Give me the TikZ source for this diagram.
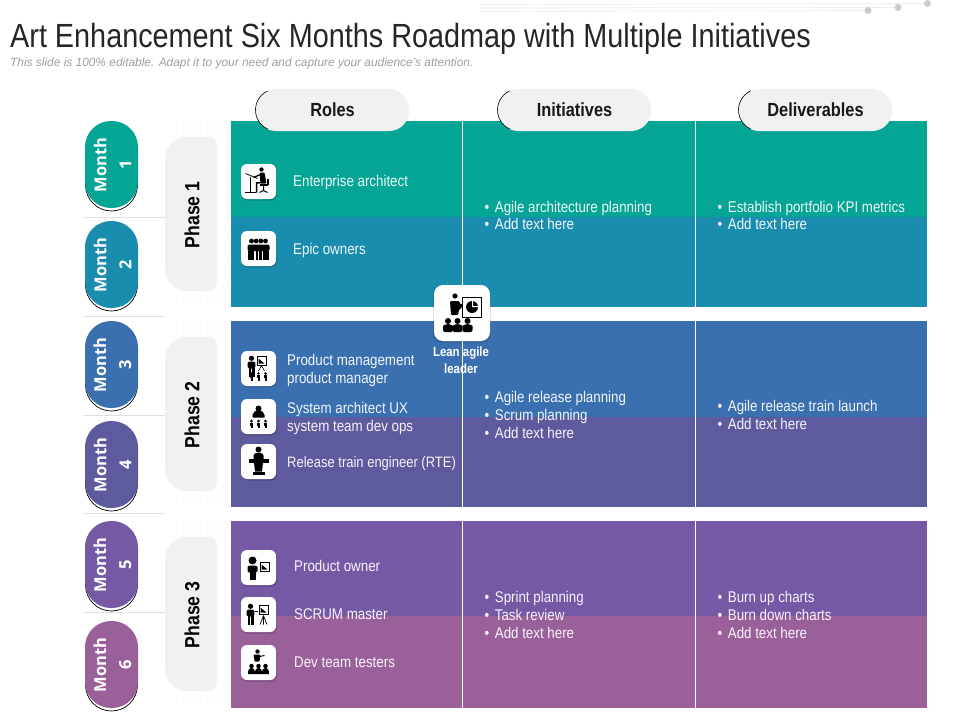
\documentclass[tikz,border=0pt]{standalone}
\usepackage{fontspec}
\setmainfont[FakeStretch=0.86]{Liberation Sans}
\newfontfamily\titlefont[FakeStretch=0.86]{Liberation Sans}
\newfontfamily\monthfont{Open Sans}
\newfontfamily\subfont{Liberation Sans}
\definecolor{ca}{HTML}{05A596}
\definecolor{cb}{HTML}{1A8CAD}
\definecolor{cc}{HTML}{3B70B0}
\definecolor{cd}{HTML}{5D5A9E}
\definecolor{ce}{HTML}{7659A5}
\definecolor{cf}{HTML}{9A6099}
\definecolor{padg}{HTML}{F1F1F1}
\tikzset{
  band/.style={fill=#1,draw=none},
  rowtext/.style={anchor=west,text=white,font=\fontsize{15.5}{18}\selectfont,align=left,inner sep=0pt,opacity=.93},
  celltext/.style={anchor=west,text=white,font=\fontsize{15.5}{17.8}\selectfont,align=left,inner sep=0pt,opacity=.93},
  headbox/.style={fill=padg,rounded corners=20pt,minimum width=153pt,minimum height=42pt,inner sep=0pt,font=\bfseries\fontsize{19}{20}\selectfont,text=black!90},
  monthlabel/.style={text=white,rotate=90,align=center,inner sep=0pt,font=\monthfont\bfseries\fontsize{16.5}{25}\selectfont},
  phaselabel/.style={rotate=90,text=black,inner sep=0pt,font=\bfseries\fontsize{20.5}{22}\selectfont},
  iconbox/.style={fill=white,rounded corners=6pt,minimum width=35pt,minimum height=35pt,inner sep=0pt},
  sepline/.style={draw=black!12,line width=.7pt},
  pics/prs/.style={code={
    \fill (0,-5.2) circle (2.6);
    \fill[rounded corners=1.5pt] (-3.8,-2) rectangle (3.8,5);
    \fill (-3,4) rectangle (-.4,13);
    \fill (.4,4) rectangle (3,13);
  }},
  pics/chartbd/.style={code={
    \draw[line width=.8pt,fill=white] (-4.5,-4.5) rectangle (4.5,4.5);
    \fill (-3,3) -- (-3,-2) -- (3,3) -- cycle;
  }}
}
\newcommand{\monthpill}[4]{% name, top y, colour, number
  \fill[white,draw=black,line width=.7pt,rounded corners=26pt] (85.5,#2+3) rectangle (137.5,#2+90);
  \fill[#3,rounded corners=26pt] (85,#2) rectangle (138,#2+87);
  \node[monthlabel] (#1) at (112.5,#2+44) {Month\\#4};
}
\newcommand{\phasepad}[3]{% name, top y, label
  \foreach \dx in {0,6,...,48} \foreach \dy in {0,6,...,180}
    \fill[black!9] (177+\dx,#2-15+\dy) circle (.6);
  \fill[padg] (165,#2+77) [rounded corners=22pt] |- (191,#2) [rounded corners=8pt] -| (217,#2+77) |- (191,#2+154) [rounded corners=22pt] -| cycle;
  \node[phaselabel] (#1) at (192,#2+78) {#3};
}
\newcommand{\headpill}[3]{% name, left x, label
  \node[headbox] (#1) at (#2+77.5,110) {#3};
  \draw[black,line width=.6pt] (#2+12.6,129) arc[start angle=245,end angle=115,radius=21pt];
}
\newcommand{\iconplate}[3]{% name, x, y centre
  \fill[black,opacity=.18,rounded corners=6pt] (#2-17,#3-16) rectangle (#2+18.5,#3+19);
  \node[iconbox] (#1) at (#2,#3) {};
}
\begin{document}
\begin{tikzpicture}[x=1pt,y=-1pt]
\useasboundingbox (0,0) rectangle (960,720);
% top decoration
\draw[black!8,line width=.7pt] (480,4.5) -- (927,3.5);
\draw[black!8,line width=.7pt] (480,8) -- (898,7.5);
\draw[black!8,line width=.7pt] (480,11.5) -- (868,10.5);
\fill[black!20] (868,10.5) circle (3.5) (898,7.5) circle (3.5) (927.5,3.5) circle (3.5);
% title
\node[anchor=base west,inner sep=0pt,text=black!85,font=\titlefont\fontsize{33.5}{36}\selectfont] (title) at (10,47) {Art Enhancement Six Months Roadmap with Multiple Initiatives};
\node[anchor=base west,inner sep=0pt,text=black!38,font=\subfont\itshape\fontsize{11.9}{13}\selectfont] (sub) at (10,66) {This slide is 100\% editable. Adapt it to your need and capture your audience’s attention.};
% bands
\fill[band=ca] (231,121) rectangle (927,217);
\fill[band=cb] (231,217) rectangle (927,307);
\fill[band=cc] (231,321) rectangle (927,417);
\fill[band=cd] (231,417) rectangle (927,507);
\fill[band=ce] (231,521) rectangle (927,616);
\fill[band=cf] (231,616) rectangle (927,708);
\draw[white,line width=1pt] (462.5,121) -- (462.5,708);
\draw[white,line width=1pt] (695.5,121) -- (695.5,708);
\fill[white] (231,307) rectangle (927,321);
\fill[white] (231,507) rectangle (927,521);
% separators
\foreach \yy in {217,316,415,513,612} \draw[sepline] (83,\yy) -- (165,\yy);
% months
\monthpill{m1}{121}{ca}{1}
\monthpill{m2}{221}{cb}{2}
\monthpill{m3}{321}{cc}{3}
\monthpill{m4}{421}{cd}{4}
\monthpill{m5}{521}{ce}{5}
\monthpill{m6}{621}{cf}{6}
% phases
\phasepad{p1}{137}{Phase 1}
\phasepad{p2}{337}{Phase 2}
\phasepad{p3}{537}{Phase 3}
% headers
\headpill{h1}{255}{Roles}
\headpill{h2}{497}{Initiatives}
\headpill{h3}{738}{Deliverables}
% role texts
\node[rowtext] (r1) at (293,182) {Enterprise architect};
\node[rowtext] (r2) at (293,250) {Epic owners};
\node[rowtext] (r3) at (287,370.5) {Product management\\product manager};
\node[rowtext] (r4) at (287,418.5) {System architect UX\\system team dev ops};
\node[rowtext,font=\fontsize{15.1}{18}\selectfont] (r5) at (287,463.5) {Release train engineer (RTE)};
\node[rowtext] (r6) at (294,566) {Product owner};
\node[rowtext] (r7) at (294,614.5) {SCRUM master};
\node[rowtext] (r8) at (294,662.5) {Dev team testers};
% initiatives
\node[celltext] (i1) at (484.5,215.5) {•\hspace{5.5pt}Agile architecture planning\\•\hspace{5.5pt}Add text here};
\node[celltext] (i2) at (484.5,415) {•\hspace{5.5pt}Agile release planning\\•\hspace{5.5pt}Scrum planning\\•\hspace{5.5pt}Add text here};
\node[celltext] (i3) at (484.5,615) {•\hspace{5.5pt}Sprint planning\\•\hspace{5.5pt}Task review\\•\hspace{5.5pt}Add text here};
% deliverables
\node[celltext] (d1) at (717.5,215.5) {•\hspace{5.5pt}Establish portfolio KPI metrics\\•\hspace{5.5pt}Add text here};
\node[celltext] (d2) at (717.5,415) {•\hspace{5.5pt}Agile release train launch\\•\hspace{5.5pt}Add text here};
\node[celltext] (d3) at (717.5,615) {•\hspace{5.5pt}Burn up charts\\•\hspace{5.5pt}Burn down charts\\•\hspace{5.5pt}Add text here};
% icon 1: architect at desk
\iconplate{ic1}{258.5}{181.5}
\begin{scope}[shift={(258.5,181.5)}]
  \fill (3,-12) circle (2.2);
  \fill[rounded corners=1pt] (1,-9) -- (6,-9) -- (8,2) -- (2,2) -- cycle;
  \draw[line width=1.5pt] (3,1) -- (-2,1.5) -- (-2,11);
  \draw[line width=1.3pt] (2,-7) -- (-5,-4);
  \draw[line width=.8pt] (-13,-8) -- (-1,-3);
  \draw[line width=1.2pt] (-8,-5) -- (-8,11);
  \draw[line width=.8pt] (-14,11) -- (-3,11);
  \fill (1,2) rectangle (9,4);
  \draw[line width=1pt] (5,4) -- (5,9) (1,11) -- (5,9) -- (9,11);
  \fill (8,-3) rectangle (10,3);
\end{scope}
% icon 2: group
\iconplate{ic2}{258.5}{248.5}
\begin{scope}[shift={(258.5,248.5)}]
  \foreach \xx in {-7,-2.3,2.3,7} \fill (\xx,-7.5) circle (2.4);
  \fill[rounded corners=1.5pt] (-11,-4) rectangle (11,2.5);
  \foreach \xx in {-7.5,0,7.5} {\fill (\xx-3,2) rectangle (\xx-.3,11); \fill (\xx+.3,2) rectangle (\xx+3,11);}
\end{scope}
% icon 3: presenter and audience
\iconplate{ic3}{258.5}{368.5}
\begin{scope}[shift={(258.5,368.5)}]
  \begin{scope}[shift={(-7,-5)},scale=.62] \pic {prs}; \end{scope}
  \begin{scope}[shift={(3,-8)},scale=.95] \pic {chartbd}; \end{scope}
  \draw[line width=.6pt] (3,-3) -- (0,2.5) (3,-3) -- (6,2.5);
  \foreach \xx in {-7,0,7} {\fill (\xx,5) circle (1.4); \fill (\xx-1.7,6.6) rectangle (\xx+1.7,9.5); \fill (\xx-1,9.5) rectangle (\xx+1,12);}
\end{scope}
% icon 4: team lead
\iconplate{ic4}{258.5}{416.5}
\begin{scope}[shift={(258.5,416.5)}]
  \fill (0,-8) circle (3);
  \fill (-6,1) -- (-6,-1.5) arc[start angle=180,end angle=360,x radius=6,y radius=4.5] -- (6,1) -- cycle;
  \foreach \xx in {-7,0,7} {\fill (\xx,4.6) circle (1.4); \fill (\xx-1.7,6.3) rectangle (\xx+1.7,9); \fill (\xx-1,9) rectangle (\xx+1,11.5);}
\end{scope}
% icon 5: speaker at podium
\iconplate{ic5}{258.5}{461.5}
\begin{scope}[shift={(258.5,461.5)}]
  \fill (0,-12) circle (3);
  \fill (-5,-2) -- (-5,-6) arc[start angle=180,end angle=360,x radius=5,y radius=3] -- (5,-2) -- cycle;
  \fill (-10,-3) rectangle (10,1);
  \fill (-4.5,1) -- (4.5,1) -- (3.5,10) -- (-3.5,10) -- cycle;
  \fill (-6,10) rectangle (6,13);
\end{scope}
% icon 6: owner with chart
\iconplate{ic6}{258.5}{567.5}
\begin{scope}[shift={(258.5,567.5)}]
  \fill (-6,-7) circle (4);
  \fill[rounded corners=1.5pt] (-11,-2) rectangle (-1,5);
  \fill (-9,4) rectangle (-3,12);
  \begin{scope}[shift={(6,-1)},scale=1.2] \pic {chartbd}; \end{scope}
\end{scope}
% icon 7: presenter at easel
\iconplate{ic7}{258.5}{614.5}
\begin{scope}[shift={(258.5,614.5)}]
  \begin{scope}[shift={(-8,-3)},scale=1] \pic {prs}; \end{scope}
  \draw[line width=1pt] (-4,-3) -- (-.5,-3);
  \begin{scope}[shift={(5,-5)},scale=1.25] \pic {chartbd}; \end{scope}
  \draw[line width=.7pt] (5,1) -- (1.5,10) (5,1) -- (8.5,10) (5,1) -- (5,10);
\end{scope}
% icon 8: speaker and audience
\iconplate{ic8}{258.5}{662.5}
\begin{scope}[shift={(258.5,662.5)}]
  \fill (-1,-11) circle (2.2);
  \fill[rounded corners=1pt] (-5,-8) -- (2,-8) -- (1,-1) -- (-4,-1) -- cycle;
  \draw[line width=1pt] (1,-6) -- (6,-7);
  \foreach \xx in {-7,0,7} {\begin{scope}[shift={(\xx,6)},scale=.95] \fill (0,-2.6) circle (2.4); \fill (-3.6,6) -- (-3.6,3) arc[start angle=180,end angle=360,radius=3.6] -- (3.6,6) -- cycle; \end{scope}}
\end{scope}
% central icon
\fill[black,opacity=.12,rounded corners=9pt] (433,285) rectangle (491,343);
\node[fill=white,rounded corners=9pt,minimum width=56pt,minimum height=56pt,inner sep=0pt] (lead) at (462,313) {};
\begin{scope}[shift={(462,313)}]
  \fill (-7,-17) circle (2.6);
  \fill[rounded corners=1pt] (-12,-12) -- (-3,-12) -- (-1,-8) -- (2,-11) -- (3,-9) -- (-3,-3) -- (-4,2) -- (-11,2) -- cycle;
  \draw[line width=.9pt,fill=white] (.5,-15.5) rectangle (19.5,4);
  \fill (10,-6) circle (6);
  \fill[white] (10,-6) -- (10,-13) -- (11,-13) -- (11,-7) -- (17,-7) -- (17,-6) -- cycle;
  \foreach \xx in {-14,-4.5,5.5} {\begin{scope}[shift={(\xx,8)}] \fill (0,0) circle (3); \fill[rounded corners=2pt] (-5,11) -- (-5,7) arc[start angle=180,end angle=360,x radius=5,y radius=4] -- (5,11) -- cycle; \end{scope}}
\end{scope}
\node[text=white,align=center,inner sep=0pt,font=\bfseries\fontsize{13.3}{17}\selectfont] (leadtext) at (461,360.5) {Lean agile\\leader};
\end{tikzpicture}
\end{document}
